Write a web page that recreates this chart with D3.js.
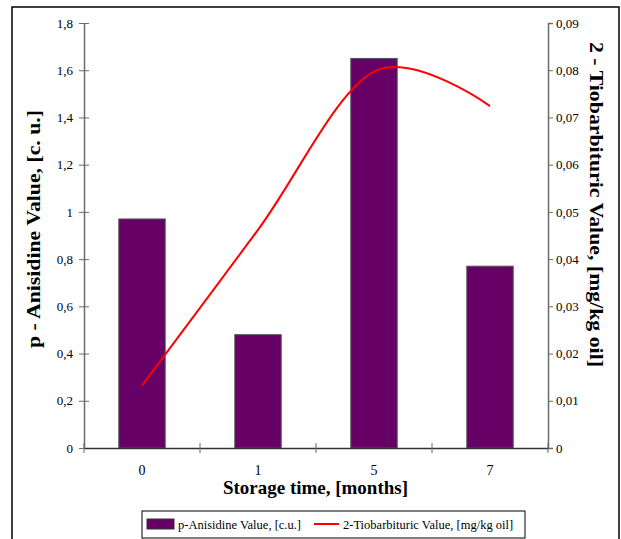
<!DOCTYPE html>
<html>
<head>
<meta charset="utf-8">
<script src="https://cdn.jsdelivr.net/npm/d3@7"></script>
<style>
  body { margin: 0; background: #fff; }
  text { font-family: "Liberation Serif", "Times New Roman", serif; }
</style>
</head>
<body>
<div class="chart"></div>
<script>
// datos
var months = ["0", "1", "5", "7"];
var anisidine = [0.97, 0.48, 1.65, 0.77];       // eje izquierdo, barras
var tbaValues = [0.0132, 0.0462, 0.0797, 0.0724]; // eje derecho, línea
var leftTicks = [0, 0.2, 0.4, 0.6, 0.8, 1, 1.2, 1.4, 1.6, 1.8];
var rightTicks = [0, 0.01, 0.02, 0.03, 0.04, 0.05, 0.06, 0.07, 0.08, 0.09];

var W = 621, H = 539;
var margin = {top: 23, right: 73, bottom: 91, left: 84};
var w = W - margin.left - margin.right;
var h = H - margin.top - margin.bottom;

var svg = d3.select(".chart")
    .append("svg")
    .attr("width", W)
    .attr("height", H);

// marco exterior
svg.append("rect")
    .attr("x", 12).attr("y", 7)
    .attr("width", 607).attr("height", H + 10)
    .attr("fill", "none")
    .attr("stroke", "#000")
    .attr("stroke-width", 1.5);

var mainG = svg.append("g")
    .attr("transform", "translate(" + margin.left + "," + margin.top + ")");

var x = d3.scaleBand().domain(months).range([0, w]);
var yL = d3.scaleLinear().domain([0, 1.8]).range([h, 0]);
var yR = d3.scaleLinear().domain([0, 0.09]).range([h, 0]);

var coma = function(f) { return function(d) { return d3.format(f)(d).replace(".", ","); }; };

// barras
var barW = x.bandwidth() * 0.4;
mainG.selectAll(".bar")
    .data(anisidine)
  .enter()
    .append("rect")
    .attr("class", "bar")
    .attr("x", function(d, i) { return x(months[i]) + (x.bandwidth() - barW) / 2; })
    .attr("y", function(d) { return yL(d); })
    .attr("width", barW)
    .attr("height", function(d) { return h - yL(d); })
    .attr("fill", "#660066")
    .attr("stroke", "#555")
    .attr("stroke-width", 1);

// línea suavizada
var line = d3.line()
    .x(function(d, i) { return x(months[i]) + x.bandwidth() / 2; })
    .y(function(d) { return yR(d); })
    .curve(d3.curveCatmullRom.alpha(0));

mainG.append("path")
    .datum(tbaValues)
    .attr("d", line)
    .attr("fill", "none")
    .attr("stroke", "#ff0000")
    .attr("stroke-width", 2);

// ejes
var axisCol = "#6b6b6b";

var yAxisL = mainG.append("g")
    .call(d3.axisLeft(yL).tickValues(leftTicks).tickFormat(coma("")).tickSize(0).tickPadding(11));
yAxisL.selectAll(".tick line").attr("x1", -5).attr("x2", 5);

var yAxisR = mainG.append("g")
    .attr("transform", "translate(" + w + ",0)")
    .call(d3.axisRight(yR).tickValues(rightTicks).tickFormat(coma("")).tickSize(5).tickPadding(3));

var xAxis = mainG.append("g")
    .attr("transform", "translate(0," + h + ")")
    .call(d3.axisBottom(x).tickSize(0).tickPadding(17));
// marcas entre categorías
xAxis.selectAll(".sep")
    .data([0, 1, 2, 3, 4])
  .enter()
    .append("line")
    .attr("class", "sep")
    .attr("x1", function(d) { return d * x.bandwidth(); })
    .attr("x2", function(d) { return d * x.bandwidth(); })
    .attr("y1", -5).attr("y2", 5)
    .attr("stroke", axisCol);

[yAxisL, yAxisR, xAxis].forEach(function(g) {
  g.select(".domain").attr("stroke", axisCol).attr("stroke-width", 1.5);
  g.selectAll(".tick line").attr("stroke", axisCol);
  g.selectAll("text")
    .attr("font-family", "Liberation Serif")
    .attr("font-size", 13)
    .attr("fill", "#000");
});
xAxis.selectAll("text").attr("font-size", 14);
xAxis.select(".domain").attr("stroke", "#333");

// títulos (longitudes medidas en la figura)
svg.append("text")
    .attr("x", 315.5).attr("y", 494)
    .attr("text-anchor", "middle")
    .attr("font-size", 19).attr("font-weight", "bold")
    .attr("textLength", 185).attr("lengthAdjust", "spacingAndGlyphs")
    .text("Storage time, [months]");

svg.append("text")
    .attr("transform", "translate(40,229) rotate(-90)")
    .attr("text-anchor", "middle")
    .attr("font-size", 18.5).attr("font-weight", "bold")
    .attr("textLength", 238).attr("lengthAdjust", "spacingAndGlyphs")
    .text("p - Anisidine Value, [c. u.]");

svg.append("text")
    .attr("transform", "translate(590,204.5) rotate(90)")
    .attr("text-anchor", "middle")
    .attr("font-size", 18.5).attr("font-weight", "bold")
    .attr("textLength", 325).attr("lengthAdjust", "spacingAndGlyphs")
    .text("2 - Tiobarbituric Value, [mg/kg oil]");

// leyenda
var leg = svg.append("g").attr("transform", "translate(142,511)");
leg.append("rect")
    .attr("width", 383).attr("height", 27)
    .attr("fill", "#fff").attr("stroke", "#000").attr("stroke-width", 1);
leg.append("rect")
    .attr("x", 5).attr("y", 8).attr("width", 27).attr("height", 10)
    .attr("fill", "#660066").attr("stroke", "#333");
leg.append("text")
    .attr("x", 36).attr("y", 17.5)
    .attr("font-size", 12.5)
    .text("p-Anisidine Value, [c.u.]");
leg.append("line")
    .attr("x1", 172).attr("x2", 197).attr("y1", 13).attr("y2", 13)
    .attr("stroke", "#ff0000").attr("stroke-width", 2);
leg.append("text")
    .attr("x", 201).attr("y", 17.5)
    .attr("font-size", 12.5)
    .text("2-Tiobarbituric Value, [mg/kg oil]");
</script>
</body>
</html>
